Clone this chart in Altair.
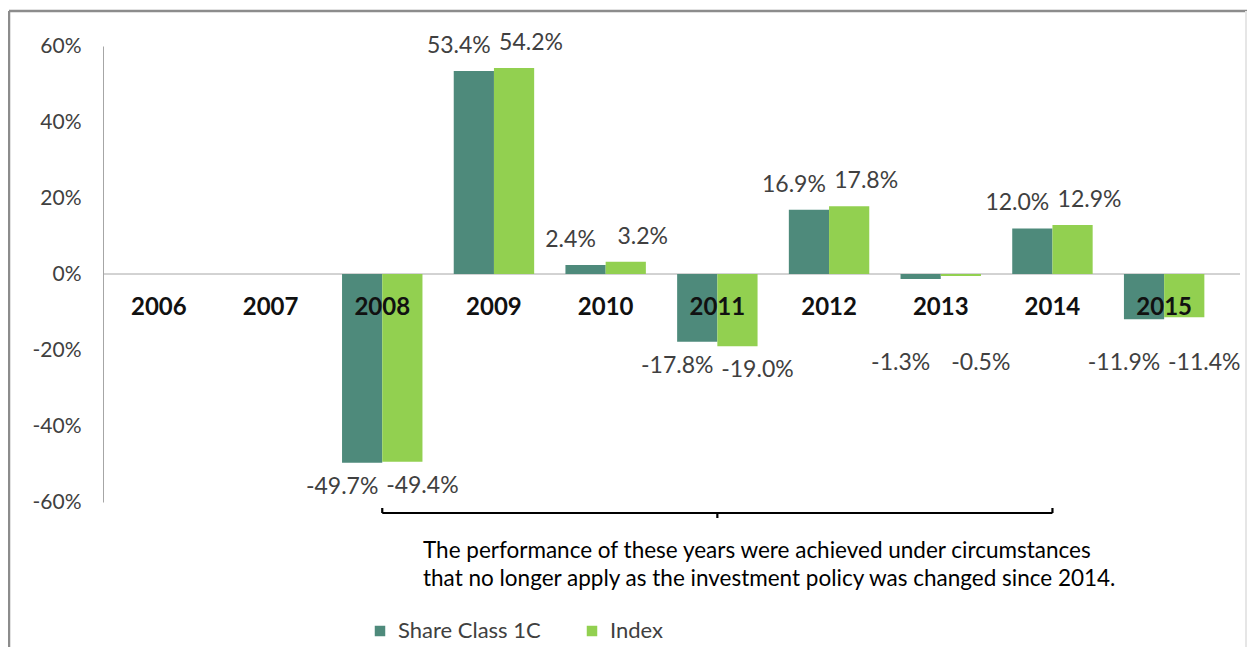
import altair as alt
import pandas as pd

years = ["2006", "2007", "2008", "2009", "2010", "2011", "2012", "2013", "2014", "2015"]
series_names = ["Share Class 1C", "Index"]
share_class = [None, None, -49.7, 53.4, 2.4, -17.8, 16.9, -1.3, 12.0, -11.9]
index_vals = [None, None, -49.4, 54.2, 3.2, -19.0, 17.8, -0.5, 12.9, -11.4]
y_ticks = [-60, -40, -20, 0, 20, 40, 60]
bracket_years = ["2008", "2014"]
note_lines = [
    "The performance of these years were achieved under circumstances",
    "that no longer apply as the investment policy was changed since 2014.",
]
colors = ["#4E8A7B", "#92D050"]

rows = []
for i, y in enumerate(years):
    for s, vals in zip(series_names, [share_class, index_vals]):
        if vals[i] is not None:
            rows.append({"year": y, "series": s, "value": vals[i],
                         "label": f"{vals[i]:.1f}%"})
df = pd.DataFrame(rows)
year_df = pd.DataFrame({"year": years})
one = pd.DataFrame({"k": [0]})

W, H = 1117, 456
FONT = "Lato"
VAL_FS = 23

xscale = alt.Scale(domain=years, paddingInner=0.28, paddingOuter=0.14)
yscale = alt.Scale(domain=[-60, 60], nice=False, zero=False)

base = alt.Chart(df)
xenc = alt.X("year:N", scale=xscale, axis=None)
xoff = alt.XOffset("series:N", sort=series_names)

bars = base.mark_bar().encode(
    x=xenc,
    xOffset=xoff,
    y=alt.Y("value:Q", scale=yscale,
            axis=alt.Axis(values=y_ticks, labelExpr="datum.value + '%'",
                          grid=False, ticks=False, domainColor="#a6a6a6",
                          labelFont=FONT, labelFontSize=21, labelColor="#404040",
                          labelPadding=22, title=None)),
    color=alt.Color("series:N", sort=series_names,
                    scale=alt.Scale(domain=series_names, range=colors),
                    legend=alt.Legend(orient="none", legendX=266, legendY=574,
                                      direction="horizontal", title=None,
                                      symbolType="square", symbolSize=110,
                                      symbolStrokeWidth=0, labelFont=FONT,
                                      labelFontSize=22, labelColor="#404040",
                                      columnPadding=40, labelOffset=7)),
)

zero_rule = alt.Chart(one).mark_rule(color="#a6a6a6", strokeWidth=1).encode(
    y=alt.datum(0, type="quantitative"), x=alt.value(0), x2=alt.value(W + 20)
)

pos_base = base.transform_filter("datum.value >= 0").encode(
    x=xenc, xOffset=xoff, y=alt.Y("value:Q", scale=yscale), text="label:N")
pos_dark = pos_base.transform_filter(f"datum.series == '{series_names[0]}'").mark_text(
    font=FONT, fontSize=VAL_FS, color="#404040", baseline="alphabetic", dy=-18, dx=-15)
pos_light = pos_base.transform_filter(f"datum.series == '{series_names[1]}'").mark_text(
    font=FONT, fontSize=VAL_FS, color="#404040", baseline="alphabetic", dy=-18, dx=17)

neg_base = base.transform_filter("datum.value < 0").transform_calculate(
    ly="min(datum.value, -17)"
).encode(x=xenc, xOffset=xoff, y=alt.Y("ly:Q", scale=yscale), text="label:N")
neg_dark = neg_base.transform_filter(f"datum.series == '{series_names[0]}'").mark_text(
    font=FONT, fontSize=VAL_FS, color="#404040", baseline="top", dy=13, dx=-20)
neg_light = neg_base.transform_filter(f"datum.series == '{series_names[1]}'").mark_text(
    font=FONT, fontSize=VAL_FS, color="#404040", baseline="top", dy=13, dx=20)

year_labels = alt.Chart(year_df).transform_calculate(zero="0").mark_text(
    font=FONT, fontSize=24, fontWeight="bold", color="#111111", baseline="middle", dy=34
).encode(
    x=xenc,
    y=alt.Y("zero:Q", scale=yscale),
    text="year:N",
)

# bracket, on a category-index scale whose units match the band centres
b_df = pd.DataFrame({
    "start": [years.index(bracket_years[0]) + 0.5],
    "end": [years.index(bracket_years[1]) + 0.5],
})
b_df["mid"] = (b_df["start"] + b_df["end"]) / 2
bx = alt.Scale(domain=[0, len(years)], nice=False, zero=False)
bracket_base = alt.Chart(b_df)
BY = 467
b_line = bracket_base.mark_rule(color="#000000", strokeWidth=2.2).encode(
    x=alt.X("start:Q", scale=bx, axis=None), x2="end:Q", y=alt.value(BY))
b_left = bracket_base.mark_rule(color="#000000", strokeWidth=2.2).encode(
    x=alt.X("start:Q", scale=bx, axis=None), y=alt.value(BY - 5), y2=alt.value(BY))
b_right = bracket_base.mark_rule(color="#000000", strokeWidth=2.2).encode(
    x=alt.X("end:Q", scale=bx, axis=None), y=alt.value(BY - 5), y2=alt.value(BY))
b_mid = bracket_base.mark_rule(color="#000000", strokeWidth=2.2).encode(
    x=alt.X("mid:Q", scale=bx, axis=None), y=alt.value(BY), y2=alt.value(BY + 5))

note = alt.Chart(one).mark_text(
    text=note_lines, font=FONT, fontSize=22.5, color="#000000",
    align="left", baseline="top", lineHeight=28
).encode(x=alt.value(320), y=alt.value(494))

frame_top = alt.Chart(one).mark_rule(color="#8c8c8c", strokeWidth=2.5).encode(
    x=alt.value(-94), x2=alt.value(1144), y=alt.value(-35))
frame_left = alt.Chart(one).mark_rule(color="#8c8c8c", strokeWidth=2.5).encode(
    x=alt.value(-94), y=alt.value(-35), y2=alt.value(640))
frame_right = alt.Chart(one).mark_rule(color="#e6e6e6", strokeWidth=2).encode(
    x=alt.value(1143), y=alt.value(-35), y2=alt.value(640))

main = alt.layer(zero_rule, bars, pos_dark, pos_light, neg_dark, neg_light, year_labels)
bracket = alt.layer(b_line, b_left, b_right, b_mid)

chart = alt.layer(
    frame_top, frame_left, frame_right, main, bracket, note
).resolve_scale(x="independent").properties(
    width=W, height=H,
    background="white",
    autosize=alt.AutoSizeParams(type="none"),
    padding={"left": 95, "top": 38, "right": 27, "bottom": 145},
).configure_view(stroke="transparent", strokeWidth=0)

chart.save("out.html", embed_options={"renderer": "svg", "actions": False})
